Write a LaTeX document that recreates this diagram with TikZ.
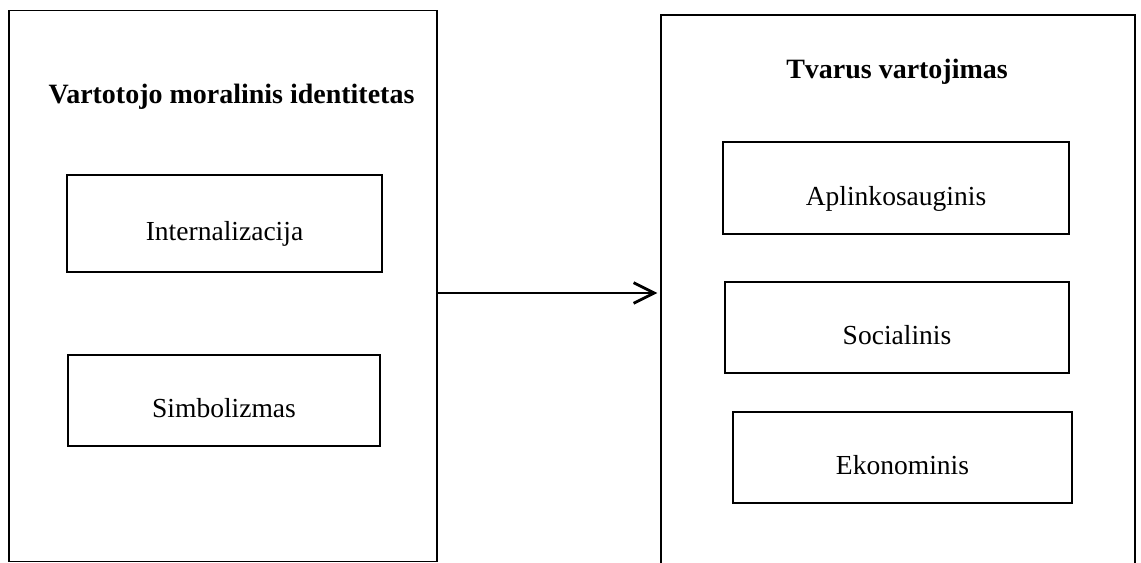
\documentclass[tikz,border=0pt]{standalone}
\usepackage{fontspec}
\setmainfont{Liberation Serif}
\usetikzlibrary{arrows.meta}

\tikzset{
  frame/.style={draw, rectangle, line width=0.6pt, inner sep=0pt},
  part/.style={frame, line width=0.5pt, font=\fontsize{12}{14}\selectfont,
    text height=16pt, text depth=1pt},
  head/.style={anchor=base, font=\fontsize{12.2}{14}\selectfont\bfseries, inner sep=0pt},
}

\begin{document}
\begin{tikzpicture}[x=0.436pt,y=-0.436pt]
\useasboundingbox (0,0) rectangle (1141,563);
\clip (0,0) rectangle (1141,563);
% outer boxes
\node[frame, minimum width=428*0.436pt, minimum height=551*0.436pt] (ident) at (223,286) {};
\node[frame, minimum width=474*0.436pt, minimum height=585*0.436pt] (tvar) at (898,307.5) {};
\node[head] (identh) at (231.5,104) {Vartotojo moralinis identitetas};
\node[head] (tvarh) at (897,79) {Tvarus vartojimas};
% left parts
\node[part, minimum width=315*0.436pt, minimum height=97*0.436pt] (intern) at (224.5,223.5) {Internalizacija};
\node[part, minimum width=312*0.436pt, minimum height=91*0.436pt] (simbol) at (224,400.5) {Simbolizmas};
% right parts
\node[part, minimum width=346*0.436pt, minimum height=92*0.436pt] (aplink) at (896,188) {Aplinkosauginis};
\node[part, minimum width=344*0.436pt, minimum height=91*0.436pt] (social) at (897,327.5) {Socialinis};
\node[part, minimum width=339*0.436pt, minimum height=91*0.436pt] (ekonom) at (902.5,457.5) {Ekonominis};
% arrow
\coordinate (arry) at (0,293);
\draw[line width=1.2pt, -{Straight Barb[length=9pt,width=9pt]}] (ident.east |- arry) -- ([xshift=-1.3pt]tvar.west |- arry);
\end{tikzpicture}
\end{document}
